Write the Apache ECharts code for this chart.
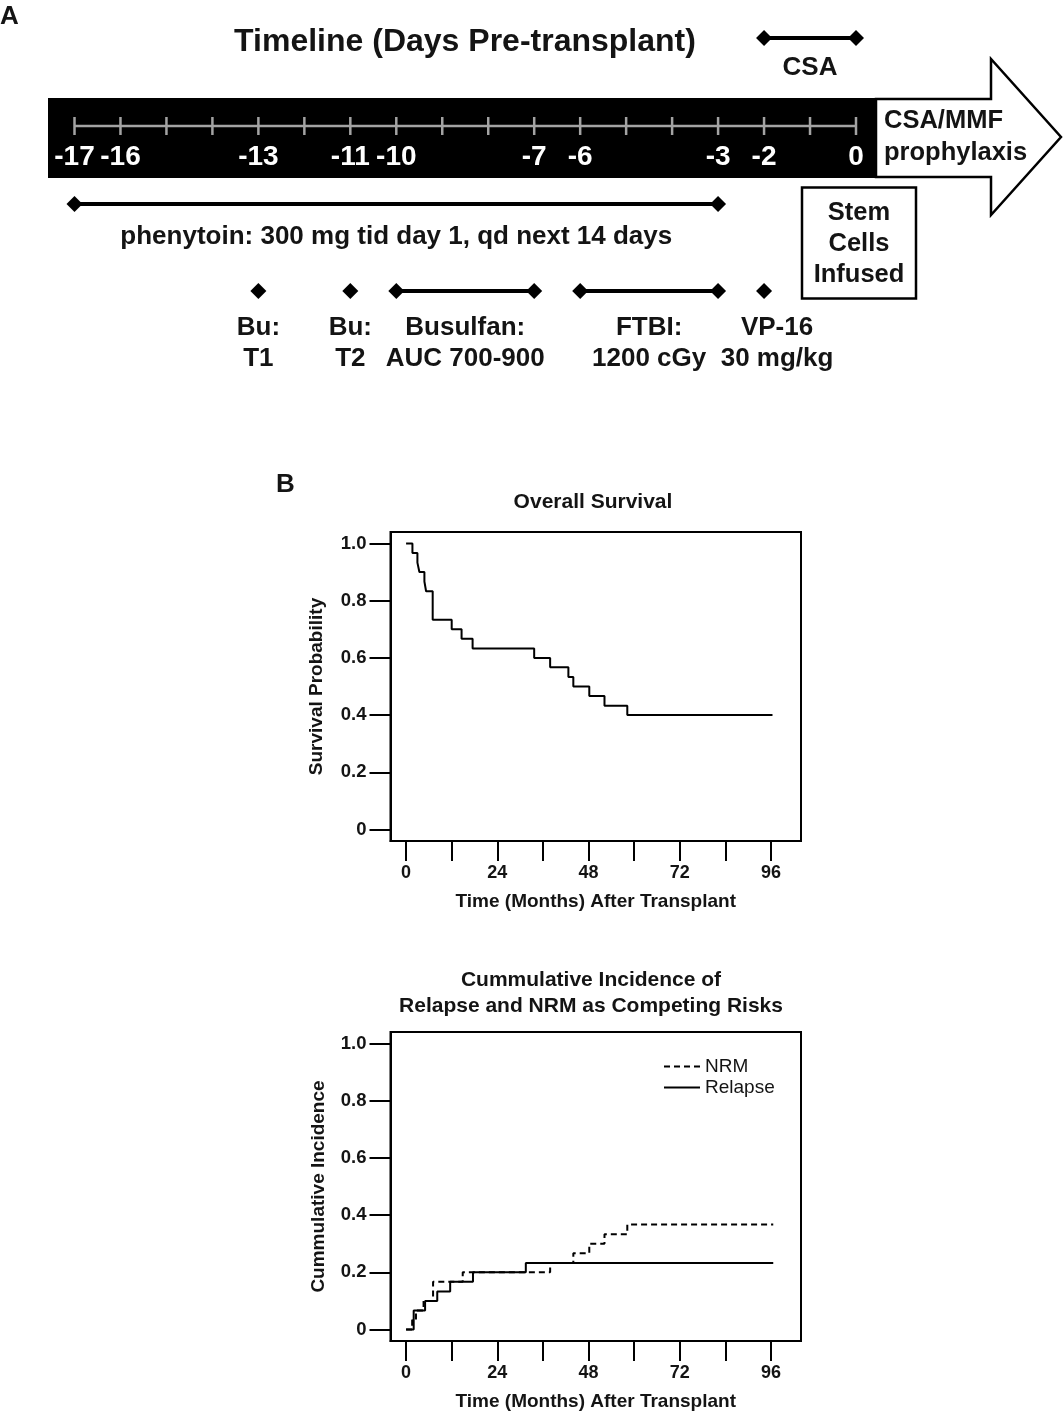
<!DOCTYPE html>
<html><head><meta charset="utf-8">
<script src="https://cdn.jsdelivr.net/npm/echarts@6/dist/echarts.min.js"></script>
<style>html,body{margin:0;padding:0;background:#fff}#c{width:1063px;height:1412px}</style>
</head><body><div id="c"></div>
<script>
// ---------- Panel A: timeline data ----------
const rulerDays = [-17,-16,-15,-14,-13,-12,-11,-10,-9,-8,-7,-6,-5,-4,-3,-2,-1,0];
const rulerLabelDays = [-17,-16,-13,-11,-10,-7,-6,-3,-2,0];
const eventLane  = ['csa','phenytoin','regimen','regimen','regimen','regimen','regimen'];
const eventStart = [-2, -17, -13, -11, -10, -6, -2];
const eventEnd   = [0,  -3,  -13, -11, -7,  -3, -2];
const eventText  = ['CSA','phenytoin: 300 mg tid day 1, qd next 14 days','Bu:\nT1','Bu:\nT2','Busulfan:\nAUC 700-900','FTBI:\n1200 cGy','VP-16\n30 mg/kg'];

// ---------- Panel B: survival / competing risks ----------
const survTime = [0, 1.67, 2.98, 3.5, 4.82, 5.26, 7.0, 12.0, 14.6, 17.5, 33.7, 37.9, 42.7, 44.0, 48.2, 52.2, 58.2, 96.4];
const survProb = [1.0, 0.967, 0.933, 0.9, 0.867, 0.833, 0.733, 0.7, 0.667, 0.633, 0.6, 0.567, 0.533, 0.5, 0.467, 0.433, 0.4, 0.4];
const relapseTime = [0, 2.0, 5.0, 8.2, 11.6, 17.6, 31.5, 96.6];
const relapseInc  = [0, 0.067, 0.1, 0.133, 0.167, 0.2, 0.233, 0.233];
const nrmTime = [0, 1.6, 2.6, 4.6, 7.1, 14.9, 37.9, 44.0, 48.2, 52.2, 58.2, 96.6];
const nrmInc  = [0, 0.033, 0.067, 0.1, 0.167, 0.2, 0.233, 0.267, 0.3, 0.333, 0.367, 0.367];
const monthTicks  = [0,12,24,36,48,60,72,84,96];
const monthLabels = [0,24,48,72,96];
const probTicks   = [0,0.2,0.4,0.6,0.8,1.0];

// ---------- layout (code only) ----------
const FONT = '"Liberation Sans", Arial, Helvetica, sans-serif';
const INK = '#141414';
const laneCenter = {csa:38, ruler:126, phenytoin:204, regimen:291};
const laneGap = {csa:14, phenytoin:17, regimen:21};
const laneIdx = {csa:0, ruler:1, phenytoin:2, regimen:3};
const TL_LEFT = 74.5, TL_W = 781.5;

const grids = [], xAxes = [], yAxes = [], series = [];
['csa','ruler','phenytoin','regimen'].forEach(function(l){
  grids.push({left:TL_LEFT, width:TL_W, top:laneCenter[l]-10, height:20, show:false});
});
grids.forEach(function(g,i){
  const isRuler = i === laneIdx.ruler;
  xAxes.push({gridIndex:i, type:'value', min:-17, max:0, show:isRuler,
    axisLine:{show:false}, axisTick:{show:false}, splitLine:{show:false},
    axisLabel:{show:isRuler, customValues:rulerLabelDays, margin:7, color:'#fff',
      fontFamily:FONT, fontWeight:'bold', fontSize:28, formatter:function(v){return String(v);} }});
  yAxes.push({gridIndex:i, type:'value', min:-1, max:1, show:false});
});

// ruler line and ticks
series.push({type:'line', xAxisIndex:1, yAxisIndex:1, silent:true, symbol:'none',
  lineStyle:{color:'#a3a3a3', width:2.5}, data:[[rulerDays[0],0],[rulerDays[rulerDays.length-1],0]], z:3});
series.push({type:'scatter', xAxisIndex:1, yAxisIndex:1, silent:true, symbol:'rect', symbolSize:[2.5,18],
  itemStyle:{color:'#a3a3a3', opacity:1}, data:rulerDays.map(function(d){return [d,0];}), z:3});

// events
eventText.forEach(function(t,i){
  const li = laneIdx[eventLane[i]];
  const pts = eventStart[i] === eventEnd[i] ? [[eventStart[i],0]] : [[eventStart[i],0],[eventEnd[i],0]];
  series.push({type:'line', xAxisIndex:li, yAxisIndex:li, silent:true, symbol:'diamond', symbolSize:[16,16],
    showAllSymbol:true, itemStyle:{color:'#000', opacity:1}, lineStyle:{color:'#000', width:4}, data:pts, z:4});
  series.push({type:'line', xAxisIndex:li, yAxisIndex:li, silent:true, symbol:'circle', symbolSize:1,
    showSymbol:true, itemStyle:{color:'rgba(0,0,0,0)', opacity:1}, lineStyle:{width:0},
    label:{show:true, position:'bottom', distance:laneGap[eventLane[i]], formatter:t, opacity:1,
      offset: t.indexOf('VP-16') === 0 ? [13,0] : [0,0],
      fontFamily:FONT, fontWeight:'bold', fontSize:26, lineHeight:31, color:INK, align:'center'},
    data:[[(eventStart[i]+eventEnd[i])/2, 0]], z:5});
});

// ---------- Panel B grids ----------
const plotTops = [532, 1032];
const yNames = ['Survival Probability','Cummulative Incidence'];
const tickFont = {color:INK, fontFamily:FONT, fontWeight:'bold', fontSize:19};
plotTops.forEach(function(top,k){
  const gi = grids.length;
  grids.push({left:390.5, width:410.5, top:top, height:309, show:true, borderColor:'#000', borderWidth:2, backgroundColor:'#fff'});
  xAxes.push({gridIndex:gi, type:'value', min:-4.1, max:103.9,
    axisLine:{show:true, onZero:false, lineStyle:{color:'#000', width:2}},
    axisTick:{show:true, customValues:monthTicks, length:20, lineStyle:{color:'#000', width:2}},
    axisLabel:Object.assign({customValues:monthLabels, margin:23}, tickFont, {fontSize:18}),
    splitLine:{show:false},
    name:'Time (Months) After Transplant', nameLocation:'middle', nameGap:51,
    nameTextStyle:tickFont});
  yAxes.push({gridIndex:gi, type:'value', min:-0.04, max:1.04,
    axisLine:{show:true, onZero:false, lineStyle:{color:'#000', width:2}},
    axisTick:{show:true, customValues:probTicks, length:21, lineStyle:{color:'#000', width:2}},
    axisLabel:Object.assign({customValues:probTicks, margin:24,
      formatter:function(v){return Math.abs(v) < 1e-9 ? '0' : v.toFixed(1);}}, tickFont, {fontSize:18.5}),
    splitLine:{show:false},
    name:yNames[k], nameLocation:'middle', nameRotate:90, nameGap: k === 0 ? 64 : 62,
    nameTextStyle:tickFont});
});

series.push({type:'line', name:'Overall Survival', xAxisIndex:4, yAxisIndex:4, step:'end', symbol:'none', silent:true,
  lineStyle:{color:'#000', width:2}, data:survTime.map(function(t,i){return [t, survProb[i]];}), z:6});
series.push({type:'line', name:'NRM', xAxisIndex:5, yAxisIndex:5, step:'end', symbol:'none', silent:true,
  itemStyle:{color:'#000'},
  lineStyle:{color:'#000', width:2, type:[6,4]}, data:nrmTime.map(function(t,i){return [t, nrmInc[i]];}), z:6});
series.push({type:'line', name:'Relapse', xAxisIndex:5, yAxisIndex:5, step:'end', symbol:'none', silent:true,
  itemStyle:{color:'#000'},
  lineStyle:{color:'#000', width:2}, data:relapseTime.map(function(t,i){return [t, relapseInc[i]];}), z:6});

function txt(text, x, y, size, opts){
  opts = opts || {};
  return {type:'text', silent:true, z:10, style:{text:text, x:x, y:y,
    font:(opts.weight || 'bold') + ' ' + size + 'px ' + FONT, fill:INK,
    textAlign:opts.align || 'center', textVerticalAlign:'middle', lineHeight:opts.lh}};
}

const graphic = [
  {type:'rect', silent:true, z:0, shape:{x:48, y:98, width:829, height:80}, style:{fill:'#000'}},
  {type:'polygon', silent:true, z:1, shape:{points:[[876,99],[991,99],[991,59],[1061,137],[991,215],[991,177],[876,177]]},
    style:{fill:'#fff', stroke:'#000', lineWidth:2.5}},
  {type:'rect', silent:true, z:1, shape:{x:802, y:187.5, width:114, height:111}, style:{fill:'#fff', stroke:'#000', lineWidth:2.5}},
  txt('A', 0, 17, 26, {align:'left'}),
  txt('B', 276, 485, 26, {align:'left'}),
  txt('Timeline (Days Pre-transplant)', 465, 42, 32),
  txt('CSA/MMF\nprophylaxis', 884, 137, 25.5, {align:'left', lh:32}),
  txt('Stem\nCells\nInfused', 859, 244, 25.5, {lh:31}),
  txt('Overall Survival', 593, 502, 21),
  txt('Cummulative Incidence of\nRelapse and NRM as Competing Risks', 591, 993, 21, {lh:26})
];

const chart = echarts.init(document.getElementById('c'), null, {renderer:'canvas'});
chart.setOption({
  animation:false,
  backgroundColor:'#fff',
  grid:grids, xAxis:xAxes, yAxis:yAxes, series:series, graphic:graphic,
  legend:{show:true, data:['NRM','Relapse'], orient:'vertical', left:658, top:1052,
    itemWidth:36, itemHeight:10, itemGap:2, itemStyle:{opacity:0},
    textStyle:{color:INK, fontFamily:FONT, fontSize:19, fontWeight:'normal'}}
});
</script></body></html>
